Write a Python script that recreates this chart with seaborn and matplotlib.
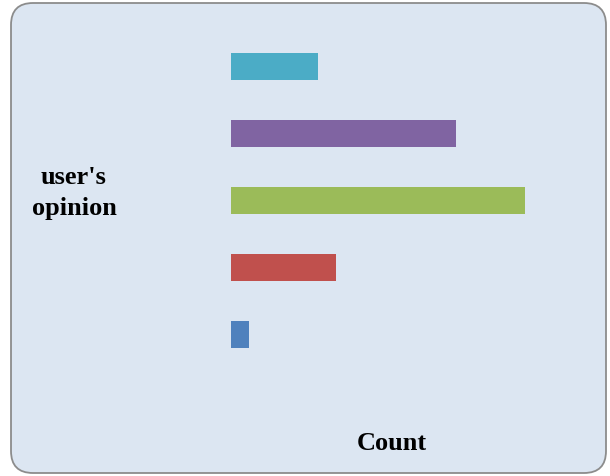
import pandas as pd
import matplotlib.pyplot as plt
import seaborn as sns
from matplotlib.patches import FancyBboxPatch
from matplotlib.transforms import IdentityTransform

# Data (top to bottom as drawn)
opinions = ["Strongly agree", "Agree", "Neutral", "Disagree", "Strongly disagree"]
counts = [24, 62, 81, 29, 5]
bar_colors = ["#4bacc6", "#8064a2", "#9bbb59", "#c0504d", "#4f81bd"]

df = pd.DataFrame({"opinion": opinions, "count": counts})

sns.set_theme(style="white")
plt.rcParams['font.family'] = ['Liberation Serif', 'DejaVu Serif']

fig = plt.figure(figsize=(6.1, 4.77), dpi=100)
fig.patch.set_facecolor("white")

# rounded panel behind the chart (pixel coords)
panel = FancyBboxPatch((11, 3), 595, 470, boxstyle="round,pad=0,rounding_size=22",
                       transform=IdentityTransform(), facecolor="#dce6f2",
                       edgecolor="#8c8c8c", linewidth=1.3, zorder=-10)
fig.patches.append(panel)

W, H = 610, 477
left, right, top, bottom = 231, 580, 34, 369
ax = fig.add_axes([left / W, 1 - bottom / H, (right - left) / W, (bottom - top) / H])
ax.set_facecolor("none")
ax.set_zorder(5)

sns.barplot(data=df, y="opinion", x="count", hue="opinion", order=opinions,
            hue_order=opinions, palette=bar_colors, width=0.4, legend=False,
            orient="h", ax=ax, errorbar=None, saturation=1, linewidth=0)

ax.set_xlim(0, (right - left) / 3.63)
ax.set_ylim(4.5, -0.5)
ax.set_xticks([])
ax.set_yticks([])
for s in ax.spines.values():
    s.set_visible(False)

ax.set_ylabel("user's\nopinion", rotation=0, fontsize=19, fontweight="bold",
              color="black", ha="center", va="center", linespacing=1.4)
ax.yaxis.set_label_coords((74 - left) / (right - left), (bottom - 193) / (bottom - top))
ax.set_xlabel("Count", fontsize=19, fontweight="bold", color="black",
              ha="center", va="center")
ax.xaxis.set_label_coords((392 - left) / (right - left), (bottom - 443) / (bottom - top))

fig.savefig("out.png", dpi=100)
